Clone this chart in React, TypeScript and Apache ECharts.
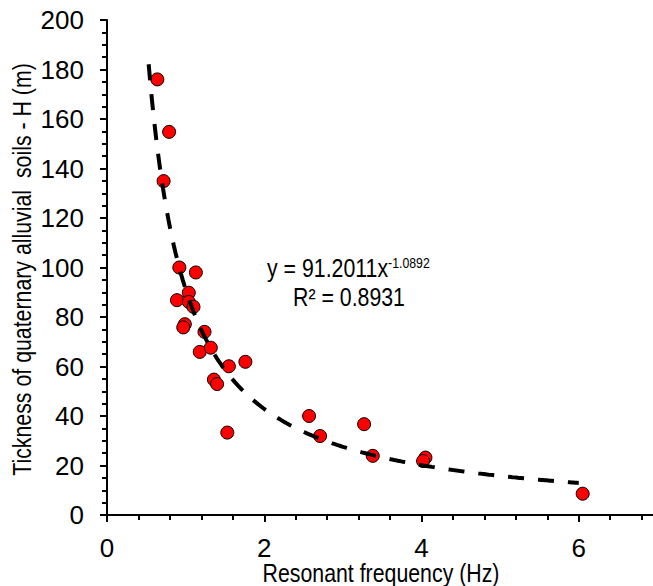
import React, { useEffect, useRef } from "react";
import * as echarts from "echarts";

// Observed points: resonant frequency (Hz) and thickness H (m)
const frequencyHz = [0.64, 0.79, 0.72, 0.92, 1.13, 1.04, 0.89, 1.04, 1.1, 0.99, 0.97, 1.24, 1.18, 1.32, 1.55, 1.76, 1.36, 1.4, 1.53, 2.57, 2.71, 3.27, 3.38, 4.05, 4.02, 6.05];
const thicknessM = [176.0, 154.8, 134.9, 100.0, 98.0, 89.8, 86.8, 86.1, 84.1, 77.1, 75.8, 74.0, 65.9, 67.6, 60.1, 61.9, 54.7, 52.9, 33.3, 40.0, 31.9, 36.7, 23.9, 23.2, 21.8, 8.6];

// Power-law fit shown on the chart: y = A * x^B
const fitA = 91.2011;
const fitB = -1.0892;
const fitR2 = "0.8931";
const fitXStart = 0.53;
const fitXEnd = 6.0;
const fitSamples = 240;

const xAxisTitle = "Resonant frequency (Hz)";
const yAxisTitle = "Tickness of quaternary alluvial  soils - H (m)";

const FONT = "'Liberation Sans Narrow', 'Arial Narrow', 'Liberation Sans', Arial, sans-serif";
const NARROW = 0.82;

export default function App() {
  const ref = useRef<HTMLDivElement>(null);

  useEffect(() => {
    if (!ref.current) return;
    const chart = echarts.init(ref.current, undefined, { renderer: "svg" });

    const scatterData = frequencyHz.map((x, i) => [x, thicknessM[i]]);
    const fitData: number[][] = [];
    for (let i = 0; i <= fitSamples; i++) {
      const x = fitXStart + ((fitXEnd - fitXStart) * i) / fitSamples;
      fitData.push([x, fitA * Math.pow(x, fitB)]);
    }

    chart.setOption({
      animation: false,
      backgroundColor: "#ffffff",
      grid: {
        left: 107,
        top: 20,
        width: 629,
        height: 495,
        containLabel: false,
        outerBoundsMode: "none",
      },
      xAxis: {
        type: "value",
        min: 0,
        max: 8,
        interval: 2,
        axisLine: { show: true, onZero: false, lineStyle: { color: "#000", width: 2 } },
        axisTick: { show: true, length: 7, lineStyle: { color: "#000", width: 2 } },
        minorTick: { show: true, splitNumber: 5, length: 5, lineStyle: { color: "#000", width: 2 } },
        splitLine: { show: false },
        minorSplitLine: { show: false },
        axisLabel: { color: "#000", fontFamily: FONT, fontSize: 26, margin: 20, showMaxLabel: false },
      },
      yAxis: {
        type: "value",
        min: 0,
        max: 200,
        interval: 20,
        axisLine: { show: true, onZero: false, lineStyle: { color: "#000", width: 2 } },
        axisTick: { show: true, length: 7, lineStyle: { color: "#000", width: 2 } },
        minorTick: { show: true, splitNumber: 4, length: 5, lineStyle: { color: "#000", width: 2 } },
        splitLine: { show: false },
        minorSplitLine: { show: false },
        axisLabel: { color: "#000", fontFamily: FONT, fontSize: 26, margin: 23 },
      },
      series: [
        {
          type: "scatter",
          data: scatterData,
          symbol: "circle",
          symbolSize: 13,
          itemStyle: { color: "#ff0000", borderColor: "#000", borderWidth: 1, opacity: 1 },
          z: 2,
        },
        {
          type: "line",
          data: fitData,
          showSymbol: false,
          symbol: "none",
          lineStyle: { color: "#000", width: 4, type: [16, 14], cap: "butt" },
          z: 3,
        },
      ],
      graphic: [
        {
          type: "text",
          x: 381,
          y: 572.5,
          scaleX: NARROW,
          style: {
            text: xAxisTitle,
            fontFamily: FONT,
            fontSize: 26,
            fill: "#000",
            align: "center",
            verticalAlign: "middle",
          },
        },
        {
          type: "text",
          x: 22,
          y: 269.5,
          rotation: Math.PI / 2,
          scaleX: NARROW,
          style: {
            text: yAxisTitle,
            fontFamily: FONT,
            fontSize: 26,
            fill: "#000",
            align: "center",
            verticalAlign: "middle",
          },
        },
        {
          type: "text",
          x: 267,
          y: 268.2,
          scaleX: NARROW,
          style: {
            text: "{a|y = " + fitA.toFixed(4) + "x}{b|" + fitB.toFixed(4) + "}",
            fontFamily: FONT,
            fill: "#000",
            align: "left",
            verticalAlign: "middle",
            rich: {
              a: { fontFamily: FONT, fontSize: 26, fill: "#000" },
              b: { fontFamily: FONT, fontSize: 15, fill: "#000", verticalAlign: "top" },
            },
          },
        },
        {
          type: "text",
          x: 293,
          y: 297.2,
          scaleX: NARROW,
          style: {
            text: "R² = " + fitR2,
            fontFamily: FONT,
            fontSize: 26,
            fill: "#000",
            align: "left",
            verticalAlign: "middle",
          },
        },
      ],
    });

    return () => chart.dispose();
  }, []);

  return (
    <div
      ref={ref}
      style={{ position: "absolute", left: 0, top: 0, width: 653, height: 586, background: "#fff" }}
    />
  );
}
